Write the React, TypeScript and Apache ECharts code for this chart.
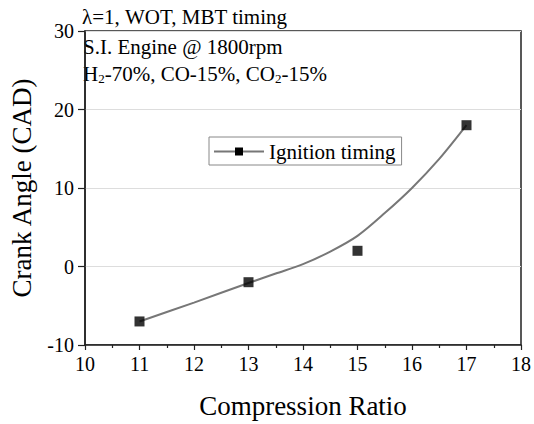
import React, { useEffect, useRef } from "react";
import * as echarts from "echarts";

const compressionRatio = [11, 13, 15, 17];
const ignitionTiming = [-7, -2, 2, 18];
// smooth fitted curve
const curveX = [11, 12, 13, 13.5, 14, 14.5, 15, 15.5, 16, 16.5, 17];
const curveY = [-7, -4.6, -2.1, -0.9, 0.3, 1.9, 3.9, 6.8, 10, 13.7, 18];
const xTicks = [10, 11, 12, 13, 14, 15, 16, 17, 18];
const yTicks = [-10, 0, 10, 20, 30];

const FONT = "'Liberation Serif', 'Times New Roman', serif";

export default function App() {
  const ref = useRef<HTMLDivElement>(null);
  useEffect(() => {
    if (!ref.current) return;
    const chart = echarts.init(ref.current, undefined, { renderer: "svg" });
    chart.setOption({
      animation: false,
      backgroundColor: "#fff",
      textStyle: { fontFamily: FONT, color: "#000" },
      grid: {
        left: 82,
        right: 10,
        top: 31,
        bottom: 73,
        show: true,
        borderColor: "#222",
        borderWidth: 1.5,
      },
      legend: {
        data: ["Ignition timing"],
        left: 209,
        top: 137,
        orient: "horizontal",
        itemWidth: 50,
        itemHeight: 10,
        itemGap: 4,
        padding: [4, 6, 3, 4],
        borderColor: "#888",
        borderWidth: 1,
        textStyle: { fontFamily: FONT, fontSize: 21, color: "#000" },
      },
      xAxis: {
        type: "value",
        min: xTicks[0],
        max: xTicks[xTicks.length - 1],
        interval: 1,
        name: "Compression Ratio",
        nameLocation: "middle",
        nameGap: 47,
        nameTextStyle: { fontFamily: FONT, fontSize: 27, color: "#000" },
        axisLine: { show: true, onZero: false, lineStyle: { color: "#222", width: 1.5 } },
        axisTick: { show: true, inside: false, length: 5, lineStyle: { color: "#222", width: 1.2 } },
        minorTick: { show: true, splitNumber: 2, length: 3, lineStyle: { color: "#222", width: 1.2 } },
        axisLabel: { fontFamily: FONT, fontSize: 20, color: "#000", margin: 9 },
        splitLine: { show: false },
      },
      yAxis: {
        type: "value",
        min: yTicks[0],
        max: yTicks[yTicks.length - 1],
        interval: 10,
        name: "Crank Angle (CAD)",
        nameLocation: "middle",
        nameGap: 50,
        nameTextStyle: { fontFamily: FONT, fontSize: 27, color: "#000" },
        axisLine: { show: true, onZero: false, lineStyle: { color: "#222", width: 1.5 } },
        axisTick: { show: true, inside: false, length: 7, lineStyle: { color: "#222", width: 1.2 } },
        axisLabel: { fontFamily: FONT, fontSize: 20, color: "#000", margin: 11 },
        splitLine: { show: true, lineStyle: { color: "#ddd", width: 1 } },
      },
      series: [
        {
          name: "Ignition timing",
          type: "line",
          smooth: 0.3,
          symbol: "rect",
          symbolSize: 9,
          itemStyle: { color: "#000" },
          lineStyle: { color: "#777", width: 2 },
          data: curveX.map((x, i) => ({ value: [x, curveY[i]], symbol: "none" })),
          z: 2,
        },
        {
          name: "Ignition timing",
          type: "scatter",
          symbol: "rect",
          symbolSize: 10,
          itemStyle: { color: "#000" },
          data: compressionRatio.map((x, i) => [x, ignitionTiming[i]]),
          z: 3,
        },
      ],
      graphic: [
        {
          type: "text",
          left: 82,
          top: 6,
          style: { text: "λ=1, WOT, MBT timing", font: "21px 'Liberation Serif', serif", fill: "#000" },
        },
        {
          type: "text",
          left: 83,
          top: 36,
          style: { text: "S.I. Engine @ 1800rpm", font: "21px 'Liberation Serif', serif", fill: "#000" },
        },
        {
          type: "text",
          left: 83,
          top: 63,
          style: {
            text: "H{s|2}-70%, CO-15%, CO{s|2}-15%",
            font: "21px 'Liberation Serif', serif",
            fill: "#000",
            rich: {
              s: { font: "13px 'Liberation Serif', serif", fill: "#000", verticalAlign: "bottom", padding: [10, 0, 0, 0] },
            },
          },
        },
      ],
    });
    return () => chart.dispose();
  }, []);
  return <div ref={ref} style={{ width: 534, height: 424, position: "absolute", left: 0, top: 0 }} />;
}
